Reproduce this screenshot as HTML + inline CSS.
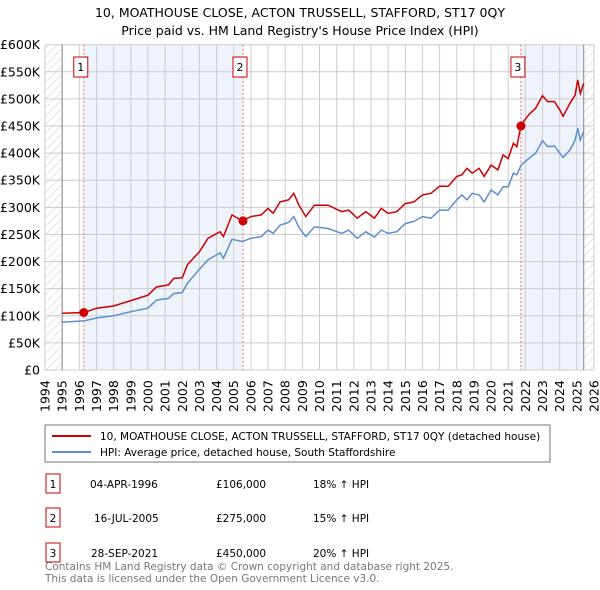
<!DOCTYPE html>
<html><head><meta charset="utf-8"><style>
body{margin:0;background:#fff;font-family:"Liberation Sans","DejaVu Sans",sans-serif;}
#wrap{position:relative;width:600px;height:590px;overflow:hidden;}
</style></head><body><div id="wrap">
<svg id="svg" width="600" height="590" xmlns="http://www.w3.org/2000/svg" font-family="DejaVu Sans, Liberation Sans, sans-serif">
<defs><pattern id="hatch" width="6" height="6" patternUnits="userSpaceOnUse" patternTransform="rotate(45)"><line x1="0" y1="0" x2="0" y2="6" stroke="#ccc" stroke-width="1"/></pattern></defs>
<text x="300" y="17" text-anchor="middle" font-size="12.5">10, MOATHOUSE CLOSE, ACTON TRUSSELL, STAFFORD, ST17 0QY</text>
<text x="300" y="35" text-anchor="middle" font-size="12.5">Price paid vs. HM Land Registry's House Price Index (HPI)</text>
<g id="plot"></g>
<rect x="45" y="425" width="505" height="37" fill="#fff" stroke="#777"/>
<line x1="52" y1="436" x2="91" y2="436" stroke="#cc0000" stroke-width="2"/>
<text x="100" y="440" font-size="10.5">10, MOATHOUSE CLOSE, ACTON TRUSSELL, STAFFORD, ST17 0QY (detached house)</text>
<line x1="52" y1="452" x2="91" y2="452" stroke="#5b8fd0" stroke-width="2"/>
<text x="100" y="456" font-size="10.5">HPI: Average price, detached house, South Staffordshire</text>
<g font-size="10.5">
<rect x="46" y="474" width="14" height="19" fill="#fff" stroke="#cc0000"/><text x="53" y="488" text-anchor="middle">1</text>
<text x="90" y="488">04-APR-1996</text><text x="216" y="488">£106,000</text><text x="313" y="488">18% ↑ HPI</text>
<rect x="46" y="508" width="14" height="19" fill="#fff" stroke="#cc0000"/><text x="53" y="522" text-anchor="middle">2</text>
<text x="94" y="522">16-JUL-2005</text><text x="216" y="522">£275,000</text><text x="313" y="522">15% ↑ HPI</text>
<rect x="46" y="543" width="14" height="19" fill="#fff" stroke="#cc0000"/><text x="53" y="557" text-anchor="middle">3</text>
<text x="91" y="557">28-SEP-2021</text><text x="216" y="557">£450,000</text><text x="313" y="557">20% ↑ HPI</text>
</g>
<text x="45" y="570" font-size="10.5" fill="#777">Contains HM Land Registry data © Crown copyright and database right 2025.</text>
<text x="45" y="582" font-size="10.5" fill="#777">This data is licensed under the Open Government Licence v3.0.</text>
</svg></div>
<script>
const yTicks=[0,50,100,150,200,250,300,350,400,450,500,550,600];
const yTickLabels=["£0","£50K","£100K","£150K","£200K","£250K","£300K","£350K","£400K","£450K","£500K","£550K","£600K"];
const years=[1994,1995,1996,1997,1998,1999,2000,2001,2002,2003,2004,2005,2006,2007,2008,2009,2010,2011,2012,2013,2014,2015,2016,2017,2018,2019,2020,2021,2022,2023,2024,2025,2026];
const dates=[1995.0,1996.3,1997,1998,1999,2000,2000.5,2001.2,2001.5,2002.0,2002.3,2003.0,2003.5,2004.2,2004.4,2004.9,2005.5,2006,2006.6,2007.0,2007.3,2007.7,2008.2,2008.5,2008.8,2009.2,2009.7,2010.5,2011.3,2011.7,2012.2,2012.7,2013.2,2013.6,2014,2014.5,2015,2015.5,2016,2016.5,2017,2017.5,2018,2018.3,2018.6,2018.9,2019.3,2019.6,2020,2020.4,2020.7,2021,2021.3,2021.5,2021.75,2022.2,2022.6,2023,2023.3,2023.7,2024.0,2024.2,2024.6,2024.9,2025.05,2025.2,2025.4];
const hpiValues=[88,91,96,100,107.5,114,129,132,141,143,160,186,203,216,206,241,237,243,246,258,252,267,272,283,263,246,264,261,252,258,243,255,245,258,252,255,270,274,283,280,295,295,314,323,314,326,323,310,332,323,338,338,363,360,378,390,400,423,412,413,400,392,406,424,446,424,440];
const priceValues=[104.5,106,114,118,128,138,153,157,169,170,194,218,243,255,246,286,275,283,286,298,289,310,314,326,304,283,304,304,292,295,280,292,280,298,289,292,307,310,323,326,339,339,357,360,372,363,372,357,378,369,397,390,418,412,452,471,483,506,495,495,480,468,492,507,535,510,529];
const saleDates=[1996.26,2005.54,2021.74];
const salePrices=[106,275,450];
const saleLabels=["1","2","3"];
const X0=45,X1=594,Y0=370,Y1=44.7;
const x=v=>X0+(v-1994)/(2026-1994)*(X1-X0);
const y=v=>Y0-v/600*(Y0-Y1);
const NS="http://www.w3.org/2000/svg";
const g=document.getElementById('plot');
function mk(t,a){const e=document.createElementNS(NS,t);for(const k in a)e.setAttribute(k,a[k]);g.appendChild(e);return e;}
let e;
e=mk('rect',{x:x(saleDates[0]),y:Y1,width:x(saleDates[1])-x(saleDates[0]),height:Y0-Y1,fill:'#eef3fc'});


e=mk('rect',{x:x(saleDates[2]),y:Y1,width:x(2025.4)-x(saleDates[2]),height:Y0-Y1,fill:'#eef3fc'});


e=mk('rect',{x:X0,y:Y1,width:x(1995)-X0,height:Y0-Y1,fill:'url(#hatch)'});


e=mk('rect',{x:x(2025.4),y:Y1,width:X1-x(2025.4),height:Y0-Y1,fill:'url(#hatch)'});


yTicks.forEach((t,i)=>{
 e=mk('line',{x1:X0,x2:X1,y1:y(t),y2:y(t),stroke:'#ccc'});
 
 
 e=mk('text',{x:40,y:y(t)+4.5,'text-anchor':'end','font-size':12.5});
 e.textContent=yTickLabels[i];
 
 
});
years.forEach(yr=>{
 e=mk('line',{x1:x(yr),x2:x(yr),y1:Y1,y2:Y0,stroke:'#ccc'});
 
 
 e=mk('text',{x:0,y:0,'font-size':12.5,transform:`translate(${x(yr)+4.5},${412}) rotate(-90)`});
 e.textContent=yr;
 
 
});
e=mk('line',{x1:x(1995),x2:x(1995),y1:Y1,y2:Y0,stroke:'#888'});


e=mk('line',{x1:x(2025.4),x2:x(2025.4),y1:Y1,y2:Y0,stroke:'#888'});


saleDates.forEach((d,i)=>{
 e=mk('line',{x1:x(d),x2:x(d),y1:Y1,y2:Y0,stroke:'#f07070','stroke-dasharray':'2,2'});
 
 
 e=mk('rect',{x:x(d)-10,y:57,width:14,height:20,fill:'#fff',stroke:'#cc0000'});
 
 
 e=mk('text',{x:x(d)-3,y:71,'text-anchor':'middle','font-size':11});
 e.textContent=saleLabels[i];
 
 
});
e=mk('path',{d:dates.map((d,i)=>(i?'L':'M')+x(d).toFixed(1)+','+y(hpiValues[i]).toFixed(1)).join(''),fill:'none',stroke:'#5b8fd0','stroke-width':1.5});


e=mk('path',{d:dates.map((d,i)=>(i?'L':'M')+x(d).toFixed(1)+','+y(priceValues[i]).toFixed(1)).join(''),fill:'none',stroke:'#cc0000','stroke-width':1.5});


saleDates.forEach((d,i)=>{
 e=mk('circle',{cx:x(d),cy:y(salePrices[i]),r:4.5,fill:'#cc0000'});
 
 
});
</script></body></html>
